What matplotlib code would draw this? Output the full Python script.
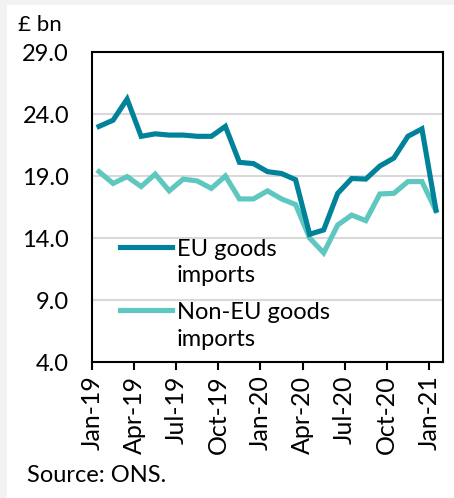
import matplotlib
matplotlib.use("Agg")
from matplotlib import pyplot as plt
from matplotlib.patches import Rectangle
import numpy as np

plt.rcParams["font.family"] = ["Lato", "DejaVu Sans"]

# monthly values, Jan-19 .. Jan-21 (£ bn)
eu_imports = [23.0, 23.5, 25.2, 22.2, 22.4, 22.3, 22.3, 22.2, 22.2, 23.0,
              20.1, 20.0, 19.35, 19.2, 18.7, 14.3, 14.65, 17.6, 18.8, 18.75,
              19.8, 20.45, 22.2, 22.8, 16.25]
non_eu_imports = [19.35, 18.4, 18.95, 18.15, 19.15, 17.8, 18.75, 18.6, 18.0, 19.0,
                  17.15, 17.15, 17.8, 17.15, 16.7, 14.0, 12.8, 15.05, 15.85, 15.4,
                  17.55, 17.6, 18.55, 18.55, 16.2]
tick_labels = ["Jan-19", "Apr-19", "Jul-19", "Oct-19", "Jan-20",
               "Apr-20", "Jul-20", "Oct-20", "Jan-21"]
y_ticks = [4.0, 9.0, 14.0, 19.0, 24.0, 29.0]

eu_color = "#00829b"
non_eu_color = "#5ec8c0"

fig = plt.figure(figsize=(4.54, 4.98), dpi=100, facecolor="#f2f2f2")
fig.add_artist(Rectangle((7 / 454, 0), 1, 1 - 5 / 498, transform=fig.transFigure,
                         facecolor="white", edgecolor="none", zorder=-10))
ax = fig.add_axes([92 / 454, 1 - 362 / 498, 351 / 454, 310 / 498])

months = np.arange(len(eu_imports)) + 0.5
ax.plot(months, non_eu_imports, color=non_eu_color, lw=3.7, solid_joinstyle="miter", zorder=3)
ax.plot(months, eu_imports, color=eu_color, lw=3.7, solid_joinstyle="miter", zorder=4)

ax.set_xlim(0, 25)
ax.set_ylim(4, 29)
ax.set_yticks(y_ticks)
ax.set_yticklabels([f"{v:.1f}" for v in y_ticks], fontsize=17)
ax.set_xticks(np.arange(0, 25, 3))
ax.set_xticklabels(tick_labels, rotation=90, fontsize=18)
ax.tick_params(axis="y", length=0, pad=16.5)
ax.tick_params(axis="x", length=5.8, width=1.5, direction="out", pad=4)
ax.grid(axis="y", color="#d9d9d9", lw=1.5)
ax.set_axisbelow(True)
for sp in ax.spines.values():
    sp.set_linewidth(1.5)
    sp.set_color("black")

# legend drawn by hand so the line sits next to the first text line
ax.plot([0.08, 0.228], [0.372, 0.372], transform=ax.transAxes, color=eu_color, lw=3.7, zorder=5)
ax.text(0.242, 0.321, "EU goods\nimports", transform=ax.transAxes, fontsize=17,
        va="center", ha="left", linespacing=1.35)
ax.plot([0.08, 0.228], [0.168, 0.168], transform=ax.transAxes, color=non_eu_color, lw=3.7, zorder=5)
ax.text(0.242, 0.116, "Non-EU goods\nimports", transform=ax.transAxes, fontsize=17,
        va="center", ha="left", linespacing=1.35)

fig.text(18 / 454, 1 - 25 / 498, "£ bn", fontsize=16, va="center", ha="left")
fig.text(27 / 454, 1 - 475 / 498, "Source: ONS.", fontsize=17, va="center", ha="left")

fig.savefig("out.png", dpi=100, facecolor=fig.get_facecolor())
